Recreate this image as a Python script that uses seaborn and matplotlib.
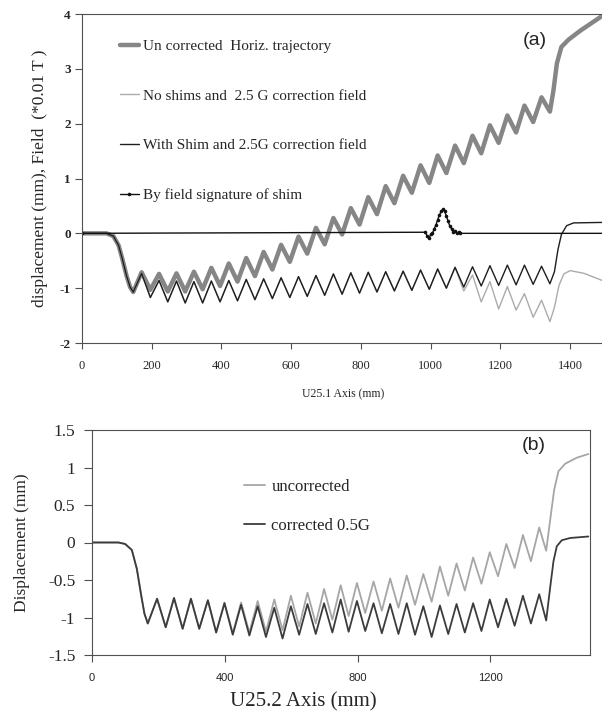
import matplotlib
matplotlib.use("Agg")
import matplotlib.pyplot as plt
import seaborn as sns

# ---- panel (a): U25.1, extrema ----
top_lead_x = [0, 70, 90, 105, 115, 128, 138]
top_lead_y = [0, 0, -0.05, -0.22, -0.45, -0.78, -0.98]

# trough, peak, trough, ... positions (mm)
top_osc_x = [147, 171, 196, 221, 246, 271, 296, 321, 346, 371, 396, 421, 446, 471,
             496, 521, 546, 571, 596, 621, 646, 671, 696, 721, 746, 771, 796, 821,
             846, 871, 896, 921, 946, 971, 996, 1020, 1045, 1070, 1095, 1120, 1145,
             1170, 1195, 1220, 1245, 1269, 1294, 1318, 1342]

uncorr_osc_y = [-1.07, -0.71, -1.03, -0.74, -1.06, -0.73, -1.06, -0.70, -1.02, -0.63,
                -0.96, -0.55, -0.88, -0.45, -0.78, -0.34, -0.66, -0.21, -0.52, -0.06,
                -0.37, 0.10, -0.20, 0.28, -0.02, 0.46, 0.16, 0.66, 0.35, 0.86, 0.55,
                1.05, 0.74, 1.24, 0.92, 1.42, 1.10, 1.60, 1.28, 1.78, 1.46, 1.97, 1.65,
                2.15, 1.84, 2.33, 2.03, 2.48, 2.22]
uncorr_tail_x = [1352, 1362, 1375, 1395, 1430, 1465, 1500]
uncorr_tail_y = [2.6, 3.1, 3.4, 3.53, 3.7, 3.85, 4.0]

noshim_osc_y = [-1.07, -0.73, -1.17, -0.86, -1.25, -0.87, -1.27, -0.88, -1.27, -0.87,
                -1.25, -0.86, -1.23, -0.84, -1.21, -0.83, -1.19, -0.81, -1.17, -0.79,
                -1.15, -0.77, -1.13, -0.74, -1.11, -0.72, -1.09, -0.71, -1.07, -0.70,
                -1.05, -0.69, -1.04, -0.67, -1.02, -0.65, -1.00, -0.62, -1.05, -0.76,
                -1.25, -0.88, -1.38, -0.97, -1.40, -1.10, -1.53, -1.22, -1.61]
noshim_tail_x = [1355, 1368, 1382, 1400, 1440, 1500]
noshim_tail_y = [-1.35, -0.95, -0.74, -0.68, -0.73, -0.88]

shim_osc_y = [-1.07, -0.73, -1.17, -0.86, -1.25, -0.87, -1.27, -0.88, -1.27, -0.87,
              -1.25, -0.86, -1.23, -0.84, -1.21, -0.83, -1.19, -0.81, -1.17, -0.79,
              -1.15, -0.77, -1.13, -0.74, -1.11, -0.72, -1.09, -0.71, -1.07, -0.70,
              -1.05, -0.69, -1.04, -0.67, -1.02, -0.65, -1.00, -0.62, -0.98, -0.61,
              -0.96, -0.59, -0.95, -0.58, -0.94, -0.58, -0.93, -0.60, -0.92]
shim_tail_x = [1355, 1365, 1375, 1390, 1410, 1500]
shim_tail_y = [-0.7, -0.3, -0.02, 0.14, 0.19, 0.2]

field_x = [0, 985, 990, 995, 1000, 1005, 1010, 1015, 1020, 1025, 1030, 1035, 1040,
           1045, 1050, 1055, 1060, 1065, 1070, 1075, 1080, 1085, 1500]
field_y = [0, 0.02, -0.05, -0.09, -0.02, 0.0, 0.08, 0.15, 0.25, 0.33, 0.40, 0.44, 0.40,
           0.32, 0.22, 0.13, 0.08, 0.03, 0.04, 0.0, 0.02, 0.0, 0]

# ---- panel (b): U25.2 ----
bot_lead_x = [0, 80, 100, 120, 135, 148, 158]
bot_lead_y = [0, 0, -0.02, -0.1, -0.35, -0.7, -0.95]

bot_osc_x = [168, 196, 222, 247, 273, 298, 323, 349, 374, 399, 424, 449, 474, 499,
             524, 549, 574, 599, 624, 649, 674, 699, 724, 749, 773, 798, 823, 848,
             873, 898, 923, 948, 973, 998, 1023, 1048, 1073, 1098, 1123, 1148, 1173,
             1198, 1223, 1248, 1273, 1298, 1322, 1347, 1368]

unc_osc_y = [-1.08, -0.75, -1.13, -0.74, -1.15, -0.75, -1.15, -0.77, -1.20, -0.80,
             -1.21, -0.80, -1.20, -0.78, -1.19, -0.76, -1.17, -0.71, -1.12, -0.67,
             -1.08, -0.62, -1.03, -0.57, -0.98, -0.54, -0.94, -0.52, -0.91, -0.48,
             -0.87, -0.44, -0.83, -0.42, -0.79, -0.32, -0.71, -0.28, -0.64, -0.20,
             -0.55, -0.13, -0.45, -0.02, -0.34, 0.10, -0.25, 0.20, -0.11]
unc_tail_x = [1380, 1392, 1405, 1425, 1460, 1495]
unc_tail_y = [0.3, 0.7, 0.95, 1.05, 1.13, 1.18]

cor_osc_y = [-1.08, -0.75, -1.13, -0.74, -1.15, -0.75, -1.15, -0.77, -1.20, -0.81,
             -1.23, -0.83, -1.24, -0.85, -1.26, -0.87, -1.28, -0.85, -1.23, -0.82,
             -1.22, -0.81, -1.20, -0.76, -1.19, -0.78, -1.18, -0.81, -1.21, -0.82,
             -1.22, -0.81, -1.23, -0.85, -1.26, -0.84, -1.22, -0.82, -1.20, -0.81,
             -1.18, -0.76, -1.13, -0.75, -1.11, -0.71, -1.08, -0.69, -1.04]
cor_tail_x = [1380, 1390, 1400, 1415, 1440, 1495]
cor_tail_y = [-0.6, -0.25, -0.05, 0.03, 0.06, 0.08]

top_xticks = [0, 200, 400, 600, 800, 1000, 1200, 1400]
top_yticks = [-2, -1, 0, 1, 2, 3, 4]
bot_xticks = [0, 400, 800, 1200]
bot_xlabels = ["0", "400", "800", "1200"]
bot_yticks = [-1.5, -1, -0.5, 0, 0.5, 1, 1.5]
bot_ylabels = ["-1.5", "-1", "-0.5", "0", "0.5", "1", "1.5"]

sns.set_style("ticks")
plt.rcParams["font.family"] = ["Liberation Serif", "DejaVu Serif"]
plt.rcParams["axes.unicode_minus"] = False

fig = plt.figure(figsize=(6.02, 7.19), dpi=100)
spine_col = "#505050"

# Plot (a)
ax1 = fig.add_axes([82 / 602, 1 - 343 / 719, 523 / 602, 329 / 719])
sns.lineplot(x=top_lead_x + top_osc_x + uncorr_tail_x, y=top_lead_y + uncorr_osc_y + uncorr_tail_y,
             ax=ax1, color="#868686", lw=3.2, sort=False, estimator=None,
             label="Un corrected  Horiz. trajectory")
sns.lineplot(x=top_lead_x + top_osc_x + noshim_tail_x, y=top_lead_y + noshim_osc_y + noshim_tail_y,
             ax=ax1, color="#ababab", lw=1.0, sort=False, estimator=None,
             label="No shims and  2.5 G correction field")
sns.lineplot(x=top_lead_x + top_osc_x + shim_tail_x, y=top_lead_y + shim_osc_y + shim_tail_y,
             ax=ax1, color="#1e1e1e", lw=1.0, sort=False, estimator=None,
             label="With Shim and 2.5G correction field")
sns.lineplot(x=field_x, y=field_y, ax=ax1, color="#111111", lw=1.0, marker="o",
             markersize=2.6, markeredgewidth=0, sort=False, estimator=None,
             label="By field signature of shim")
ax1.set_xlim(0, 1500)
ax1.set_ylim(-2, 4)
ax1.set_xticks(top_xticks)
ax1.set_yticks(top_yticks)
ax1.tick_params(axis="x", labelsize=9, direction="out", length=4, pad=8, color=spine_col)
ax1.tick_params(axis="y", labelsize=9.5, direction="out", length=5, pad=3, color=spine_col)
for lab in ax1.get_yticklabels():
    lab.set_fontweight("bold")
for s in ax1.spines.values():
    s.set_color(spine_col)
ax1.set_xlabel("U25.1 Axis (mm)", fontsize=8.5)
ax1.xaxis.set_label_coords(0.5, -0.137)
ax1.set_ylabel("displacement (mm), Field  (*0.01 T )", fontsize=12.5)
ax1.yaxis.set_label_coords(-0.065, 0.5)
ax1.legend(loc="upper left", bbox_to_anchor=(0.072, 0.923), frameon=False, fontsize=11,
           labelspacing=2.35, handlelength=1.25, handletextpad=0.3, borderpad=0,
           borderaxespad=0)
ax1.text(0.866, 0.918, "(a)", transform=ax1.transAxes, fontsize=14,
         family="Liberation Sans", ha="center", va="center")

# Plot (b)
ax2 = fig.add_axes([92 / 602, 1 - 655 / 719, 498 / 602, 225 / 719])
sns.lineplot(x=bot_lead_x + bot_osc_x + unc_tail_x, y=bot_lead_y + unc_osc_y + unc_tail_y,
             ax=ax2, color="#a6a6a6", lw=1.3, sort=False, estimator=None, label="uncorrected")
sns.lineplot(x=bot_lead_x + bot_osc_x + cor_tail_x, y=bot_lead_y + cor_osc_y + cor_tail_y,
             ax=ax2, color="#3c3c3c", lw=1.3, sort=False, estimator=None, label="corrected 0.5G")
ax2.set_xlim(0, 1500)
ax2.set_ylim(-1.5, 1.5)
ax2.set_xticks(bot_xticks, labels=bot_xlabels, fontfamily="Liberation Sans")
ax2.set_yticks(bot_yticks, labels=bot_ylabels)
ax2.tick_params(axis="x", labelsize=8, direction="out", length=5, pad=8, color=spine_col)
ax2.tick_params(axis="y", labelsize=12.5, direction="out", length=6, pad=6, color=spine_col)
for s in ax2.spines.values():
    s.set_color(spine_col)
ax2.set_xlabel("U25.2 Axis (mm)", fontsize=15)
ax2.xaxis.set_label_coords(0.424, -0.165)
ax2.set_ylabel("Displacement (mm)", fontsize=12.5)
ax2.yaxis.set_label_coords(-0.125, 0.5)
ax2.legend(loc="upper left", bbox_to_anchor=(0.305, 0.782), frameon=False, fontsize=12,
           labelspacing=1.35, handlelength=1.25, handletextpad=0.4, borderpad=0,
           borderaxespad=0)
ax2.text(0.888, 0.933, "(b)", transform=ax2.transAxes, fontsize=14,
         family="Liberation Sans", ha="center", va="center")

fig.savefig("out.png", dpi=100)
